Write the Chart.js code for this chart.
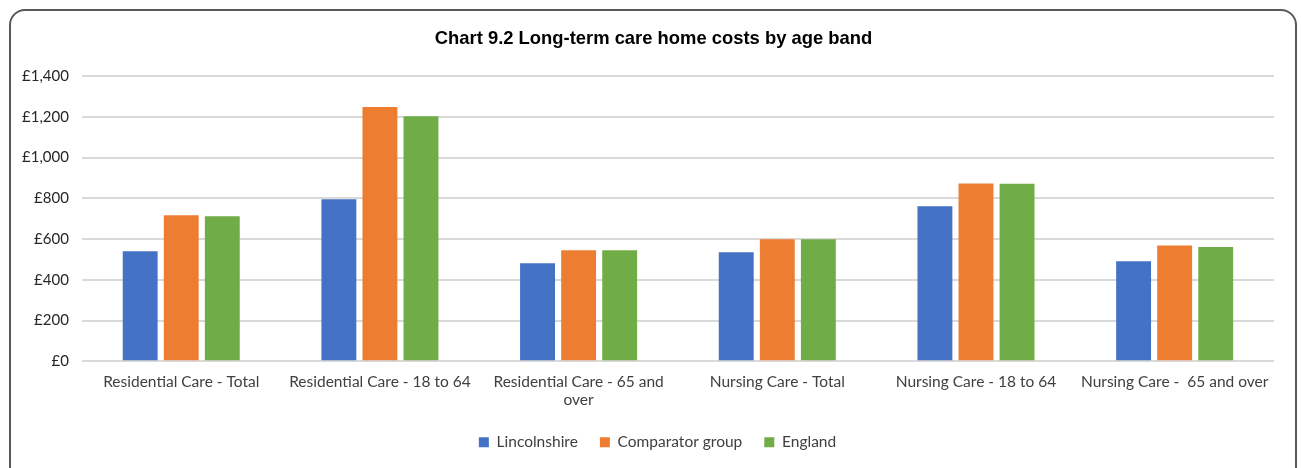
<!DOCTYPE html>
<html>
<head>
<meta charset="utf-8">
<script src="https://cdn.jsdelivr.net/npm/chart.js@4"></script>
<style>
  html, body { margin: 0; padding: 0; background: #fff; }
  #wrap { position: relative; width: 1301px; height: 468px; overflow: hidden; }
  #frame {
    position: absolute; left: 9px; top: 9px; width: 1284px; height: 480px;
    border: 2px solid #595959; border-radius: 16px; pointer-events: none;
  }
  canvas { position: absolute; left: 0; top: 0; }
</style>
</head>
<body>
<div id="wrap">
  <canvas id="chart" width="1301" height="468"></canvas>
  <div id="frame"></div>
</div>
<script>
const categories = [
  'Residential Care - Total',
  'Residential Care - 18 to 64',
  ['Residential Care - 65 and', 'over'],
  'Nursing Care - Total',
  'Nursing Care - 18 to 64',
  'Nursing Care -  65 and over'
]
const lincolnshire = [540, 796, 481, 535, 761, 491]
const comparatorGroup = [717, 1248, 545, 599, 873, 568]
const england = [712, 1203, 545, 599, 871, 561]
const yTicks = [0, 200, 400, 600, 800, 1000, 1200, 1400]

// title and legend sit a bit right of the full-width centre in the original
const nudgeBoxes = {
  id: 'nudgeBoxes',
  afterLayout(chart) {
    chart.titleBlock.left += 12
    chart.titleBlock.right += 12
    chart.legend.left += 16
    chart.legend.right += 16
  }
}

const ctx = document.querySelector('#chart')
new Chart(ctx, {
  type: 'bar',
  data: {
    labels: categories,
    datasets: [
      { label: 'Lincolnshire', data: lincolnshire, backgroundColor: '#4472C4' },
      { label: 'Comparator group', data: comparatorGroup, backgroundColor: '#ED7D31' },
      { label: 'England', data: england, backgroundColor: '#70AD47' }
    ]
  },
  plugins: [nudgeBoxes],
  options: {
    responsive: false,
    animation: false,
    datasets: {
      bar: { barPercentage: 0.85, categoryPercentage: 0.62 }
    },
    layout: { padding: { left: 9, right: 27, top: 28, bottom: 8 } },
    plugins: {
      tooltip: { enabled: false },
      title: {
        display: true,
        text: 'Chart 9.2 Long-term care home costs by age band',
        color: '#000',
        font: { family: 'Liberation Sans', size: 18.4, weight: 'bold' },
        padding: { top: 0, bottom: 26 }
      },
      legend: {
        position: 'bottom',
        labels: {
          color: '#404040',
          font: { family: 'Lato', size: 15.5 },
          boxWidth: 10,
          boxHeight: 10,
          padding: 22
        }
      }
    },
    scales: {
      x: {
        grid: { display: false },
        border: { display: false },
        ticks: {
          color: '#404040',
          font: { family: 'Lato', size: 15.5 },
          maxRotation: 0,
          padding: 3
        }
      },
      y: {
        min: 0,
        max: 1400,
        afterBuildTicks: axis => { axis.ticks = yTicks.map(v => ({ value: v })) },
        grid: { color: '#d9d9d9', lineWidth: 2, drawTicks: false },
        border: { display: false },
        ticks: {
          color: '#262626',
          font: { family: 'Lato', size: 15 },
          padding: 13,
          callback: v => '£' + new Intl.NumberFormat('en-GB').format(v)
        }
      }
    }
  }
})
</script>
</body>
</html>
